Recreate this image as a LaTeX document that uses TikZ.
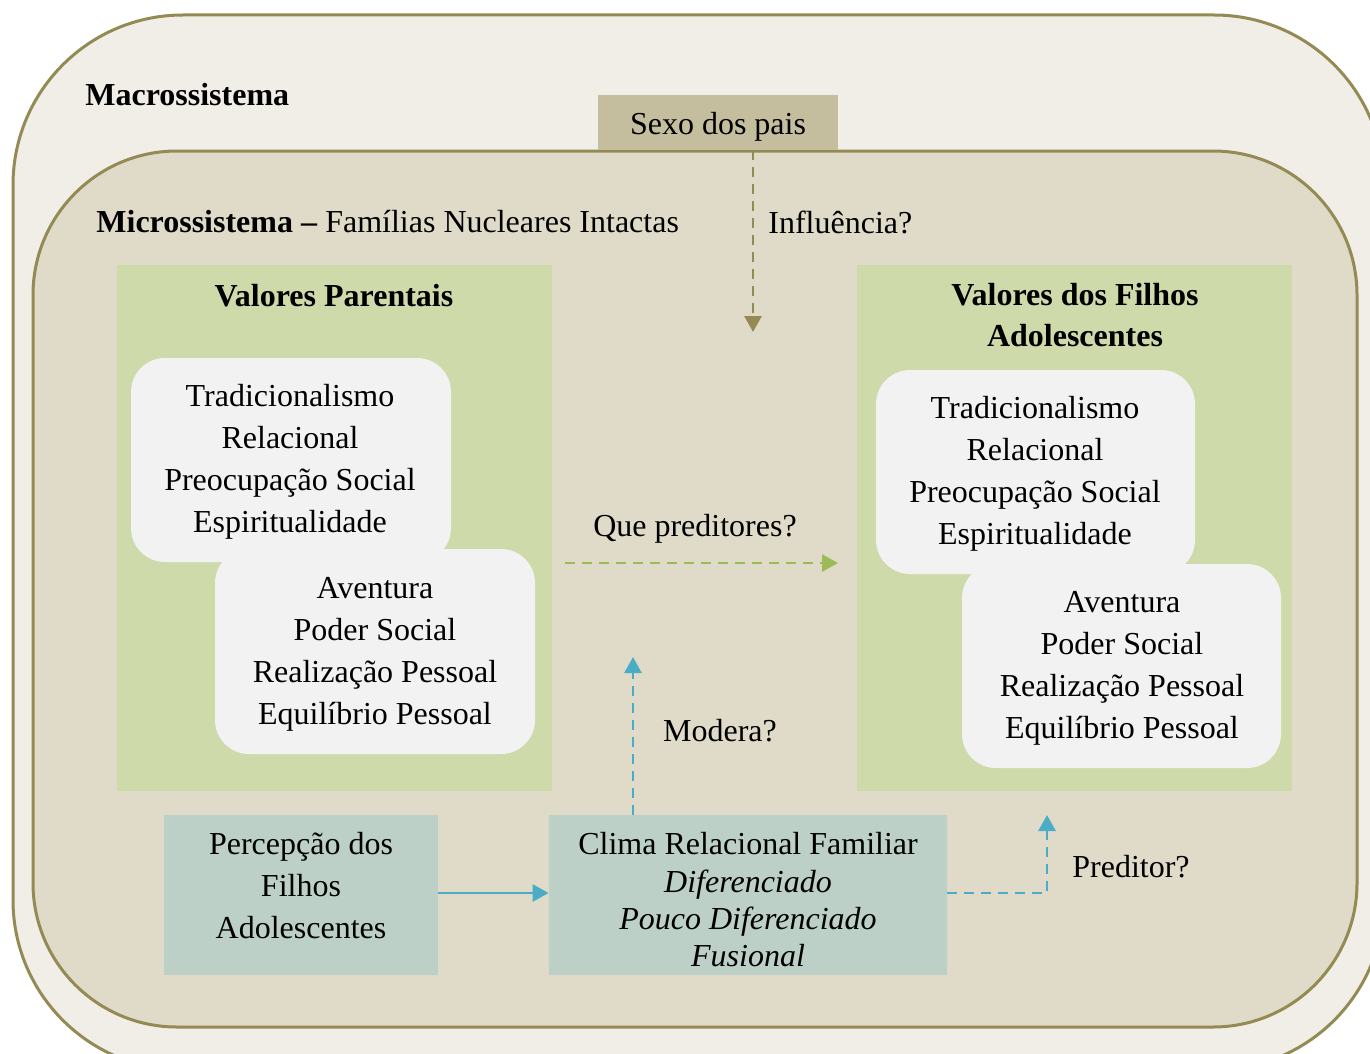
\documentclass[tikz,border=0pt]{standalone}
\usepackage{fontspec}
\setmainfont{Liberation Serif}
\usetikzlibrary{fit,arrows.meta}
\definecolor{outerfill}{HTML}{F1EEE7}
\definecolor{innerfill}{HTML}{E0DBC8}
\definecolor{olive}{HTML}{948A54}
\definecolor{sexofill}{HTML}{C4BE9E}
\definecolor{greenfill}{HTML}{CFDAAB}
\definecolor{bluefill}{HTML}{BCD0C7}
\definecolor{whitefill}{HTML}{F2F2F2}
\definecolor{greenarrow}{HTML}{9BBB59}
\definecolor{bluearrow}{HTML}{4BACC6}
\tikzset{
  txt/.style={font=\fontsize{16}{21}\selectfont, inner sep=0pt, align=center},
  boxfit/.style={inner sep=0pt},
  greenbox/.style={boxfit, fill=greenfill},
  whitebox/.style={boxfit, fill=whitefill, rounded corners=17pt},
  bluebox/.style={boxfit, fill=bluefill},
  dasharr/.style={line width=1.4pt, dash pattern=on 5pt off 3.5pt, -{Triangle[length=8pt,width=8.5pt,fill=#1]}, draw=#1},
}
\begin{document}
\begin{tikzpicture}[x=0.5pt,y=-0.5pt]
\useasboundingbox (0,0) rectangle (1370,1054);
% outer and inner systems
\draw[fill=outerfill, draw=olive, line width=1.5pt, rounded corners=85pt] (13,15) rectangle (1384,1070);
\draw[fill=innerfill, draw=olive, line width=1.5pt, rounded corners=72pt] (33,151) rectangle (1357,1027);
\node[txt, anchor=west, font=\fontsize{16}{21}\selectfont\bfseries] (macro) at (85,95) {Macrossistema};
\node[boxfit, fill=sexofill, fit={(598,95) (838,150)}] (sexo) {};
\node[txt] (sexot) at (718,127) {Sexo dos pais};
\node[txt, anchor=west] (micro) at (96,222) {\textbf{Microssistema –} Famílias Nucleares Intactas};
% influence arrow
\coordinate (inflend) at (753,332);
\draw[dasharr=olive] (sexo.south -| inflend) -- (inflend);
\node[txt, anchor=west] (infl) at (768,222) {Influência?};
% green boxes
\node[greenbox, fit={(117,265) (552,791)}] (lg) {};
\node[greenbox, fit={(857,265) (1292,791)}] (rg) {};
\node[txt, font=\fontsize{16}{21}\selectfont\bfseries] (lgt) at (334,296) {Valores Parentais};
\node[txt, font=\fontsize{16}{20.5}\selectfont\bfseries] (rgt) at (1075,315) {Valores dos Filhos\\Adolescentes};
% white boxes
\node[whitebox, fit={(131,358) (451,562)}] (w1) {};
\node[txt] (w1t) at (290,462) {Tradicionalismo\\Relacional\\Preocupação Social\\Espiritualidade};
\node[whitebox, fit={(215,549) (535,754)}] (w2) {};
\node[txt] (w2t) at (375,654) {Aventura\\Poder Social\\Realização Pessoal\\Equilíbrio Pessoal};
\node[whitebox, fit={(876,370) (1195,574)}] (w3) {};
\node[txt] (w3t) at (1035,474) {Tradicionalismo\\Relacional\\Preocupação Social\\Espiritualidade};
\node[whitebox, fit={(962,564) (1281,768)}] (w4) {};
\node[txt] (w4t) at (1122,668) {Aventura\\Poder Social\\Realização Pessoal\\Equilíbrio Pessoal};
% predictors arrow
\coordinate (qpstart) at (565,563);
\coordinate (qpend) at (838,563);
\draw[dasharr=greenarrow] (qpstart) -- (qpend);
\node[txt] (qp) at (695,529) {Que preditores?};
% blue boxes
\node[bluebox, fit={(164,815) (438,975)}] (perc) {};
\node[txt] (perct) at (301,886) {Percepção dos\\Filhos\\Adolescentes};
\node[bluebox, fit={(549,815) (947,975)}] (clima) {};
\node[txt] (climat) at (748,844) {Clima Relacional Familiar};
\node[txt, font=\fontsize{16}{18.5}\selectfont\itshape] (climai) at (748,918) {Diferenciado\\Pouco Diferenciado\\Fusional};
% connectors
\draw[line width=1.4pt, draw=bluearrow, -{Triangle[length=8pt,width=8.5pt,fill=bluearrow]}] (perc.east |- 0,893) -- (clima.west |- 0,893);
\coordinate (modend) at (633,657);
\draw[dasharr=bluearrow] (clima.north -| modend) -- (modend);
\node[txt] (mod) at (720,731) {Modera?};
\coordinate (predcorner) at (1047,893);
\coordinate (predend) at (1047,815);
\draw[dasharr=bluearrow] (clima.east |- predcorner) -- (predcorner) -- (predend);
\node[txt] (pred) at (1131,867) {Preditor?};
\end{tikzpicture}
\end{document}
